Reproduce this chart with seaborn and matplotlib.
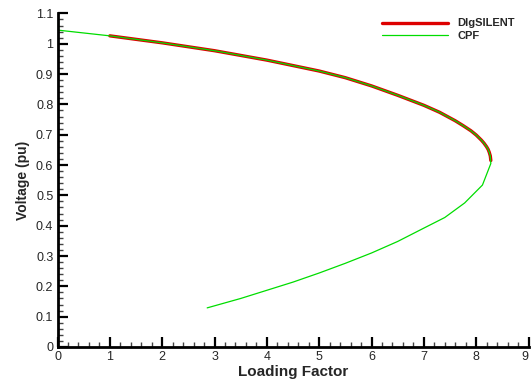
import numpy as np
import pandas as pd
import matplotlib
matplotlib.use("Agg")
import matplotlib.pyplot as plt
import seaborn as sns

# Data
dig_x = [1.0, 2.0, 3.0, 4.0, 5.0, 5.5, 6.0, 6.5, 7.0, 7.3, 7.6, 7.75, 7.9, 8.0, 8.1, 8.15, 8.2, 8.23, 8.25, 8.27, 8.28]
dig_y = [1.026, 1.003, 0.977, 0.946, 0.910, 0.888, 0.861, 0.830, 0.797, 0.774, 0.746, 0.730, 0.713, 0.699, 0.682, 0.672, 0.660, 0.651, 0.642, 0.630, 0.615]

cpf_x = [0.0, 1.0, 2.0, 3.0, 4.0, 5.0, 5.5, 6.0, 6.5, 7.0, 7.3, 7.6, 7.75, 7.9, 8.0, 8.1, 8.15, 8.2, 8.23, 8.25, 8.27, 8.28,
         8.12, 7.78, 7.40, 7.0, 6.5, 6.0, 5.5, 5.0, 4.5, 4.0, 3.5, 2.86]
cpf_y = [1.045, 1.026, 1.003, 0.977, 0.946, 0.910, 0.888, 0.861, 0.830, 0.797, 0.774, 0.746, 0.730, 0.713, 0.699, 0.682, 0.672, 0.660, 0.651, 0.642, 0.630, 0.605,
         0.534, 0.475, 0.427, 0.392, 0.348, 0.310, 0.276, 0.244, 0.214, 0.187, 0.160, 0.129]

x_ticks = [0, 1, 2, 3, 4, 5, 6, 7, 8, 9]
y_ticks = [0, 0.1, 0.2, 0.3, 0.4, 0.5, 0.6, 0.7, 0.8, 0.9, 1.0, 1.1]
y_tick_labels = ["0", "0.1", "0.2", "0.3", "0.4", "0.5", "0.6", "0.7", "0.8", "0.9", "1", "1.1"]

sns.set_style("white")
plt.rcParams['font.family'] = ['Liberation Sans', 'DejaVu Sans']

fig = plt.figure(figsize=(5.31, 3.83), dpi=100)
ax = fig.add_axes([0.1083, 0.094, 0.887, 0.871])

df_dig = pd.DataFrame({"x": dig_x, "y": dig_y})
df_cpf = pd.DataFrame({"x": cpf_x, "y": cpf_y})

sns.lineplot(data=df_dig, x="x", y="y", sort=False, estimator=None, ax=ax,
             color="#dd0000", linewidth=2.4, label="DIgSILENT")
sns.lineplot(data=df_cpf, x="x", y="y", sort=False, estimator=None, ax=ax,
             color="#00dd00", linewidth=0.9, label="CPF")

ax.set_xlim(0, 9)
ax.set_ylim(0, 1.1)
ax.set_xticks(x_ticks)
ax.set_xticklabels([str(t) for t in x_ticks])
ax.set_yticks(y_ticks)
ax.set_yticklabels(y_tick_labels)
ax.xaxis.set_minor_locator(matplotlib.ticker.MultipleLocator(0.2))
ax.yaxis.set_minor_locator(matplotlib.ticker.MultipleLocator(0.02))

for s in ["top", "right"]:
    ax.spines[s].set_visible(False)
for s in ["left", "bottom"]:
    ax.spines[s].set_linewidth(2.0)
    ax.spines[s].set_color("black")

ax.tick_params(which="major", direction="in", length=7, width=1.6, color="black",
               labelsize=9, pad=3, bottom=True, left=True)
ax.tick_params(which="minor", direction="in", length=3.8, width=1.0, color="#444444",
               bottom=True, left=True)
ax.get_xticklabels()[-1].set_horizontalalignment("right")

ax.set_xlabel("Loading Factor", fontsize=11, fontweight="bold", labelpad=1)
ax.set_ylabel("Voltage (pu)", fontsize=10, fontweight="bold", labelpad=4)

leg = ax.legend(loc="upper right", bbox_to_anchor=(0.985, 1.005), frameon=False,
                handlelength=6.0, handletextpad=0.8, labelspacing=0.2,
                prop={"size": 8, "weight": "bold"}, borderaxespad=0.2)

fig.savefig("out.png", dpi=100)
